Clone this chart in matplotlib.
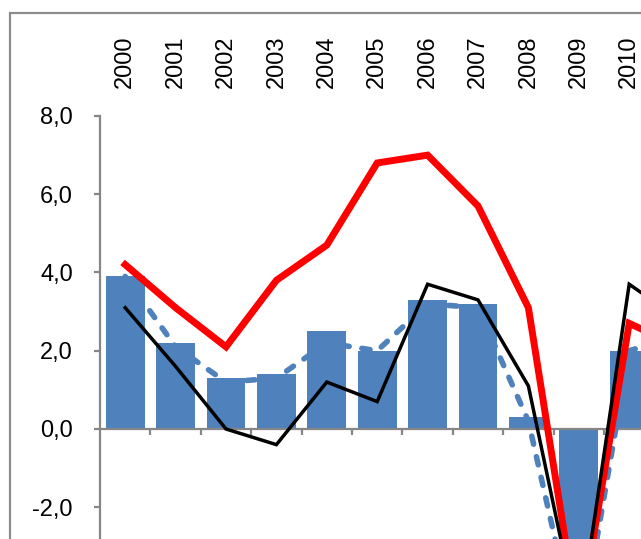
import matplotlib
matplotlib.use("Agg")
from matplotlib import pyplot as plt
from matplotlib import transforms
from matplotlib.patches import Rectangle
from matplotlib.ticker import FixedLocator, FuncFormatter

years = ["2000", "2001", "2002", "2003", "2004", "2005", "2006",
         "2007", "2008", "2009", "2010", "2011"]
bars = [3.9, 2.2, 1.3, 1.4, 2.5, 2.0, 3.3, 3.2, 0.3, -5.5, 2.0, 2.5]
dashed = [3.9, 2.1, 1.2, 1.3, 2.2, 2.0, 3.2, 3.1, 0.2, -5.5, 2.0, 2.4]
red = [4.2, 3.1, 2.1, 3.8, 4.7, 6.8, 7.0, 5.7, 3.1, -5.0, 2.7, 2.1]
black = [3.1, 1.6, 0.0, -0.4, 1.2, 0.7, 3.7, 3.3, 1.1, -5.0, 3.7, 2.8]
yticks = [-2, 0, 2, 4, 6, 8]

plt.rcParams['font.family'] = ['Liberation Sans', 'DejaVu Sans']
grey = '#868686'

W, H = 641, 539
fig = plt.figure(figsize=(W / 100, H / 100), dpi=100)

# outer chart frame (cropped on the right and bottom)
fig.patches.append(Rectangle((10 / W, -0.5), 2, 1 - 13 / H + 0.5,
                             transform=fig.transFigure, fill=False,
                             edgecolor='#8c8c8c', lw=1.6))

# plot area: y axis at x=100px, 8,0 at y=116px, 0,0 at y=429px
ymin, ymax = -6, 8
px_per_unit = (429 - 116) / 8
top = 1 - 116 / H
bottom = top - (ymax - ymin) * px_per_unit / H
left = 100 / W
cat_px = 50.4
ax = fig.add_axes([left, bottom, len(years) * cat_px / W, top - bottom])

x = list(range(len(years)))
ax.bar(x, bars, width=0.77, color='#4F81BD', zorder=2)
ax.plot(x, dashed, color='#4F81BD', lw=4, dashes=(1.5, 2.3),
        dash_capstyle='round', zorder=3)
ax.plot(x, red, color='#FF0000', lw=5, solid_joinstyle='miter', zorder=4)
ax.plot(x, black, color='black', lw=2.5, solid_joinstyle='miter', zorder=5)

ax.set_xlim(-0.5, len(years) - 0.5)
ax.set_ylim(ymin, ymax)

for s in ['top', 'right']:
    ax.spines[s].set_visible(False)
ax.spines['left'].set_color(grey)
ax.spines['left'].set_linewidth(1.6)
ax.spines['bottom'].set_position(('data', 0))
ax.spines['bottom'].set_color(grey)
ax.spines['bottom'].set_linewidth(1.6)

ax.yaxis.set_major_locator(FixedLocator(yticks))
ax.yaxis.set_major_formatter(FuncFormatter(lambda v, p: f"{v:.1f}".replace('.', ',')))
ax.tick_params(axis='y', direction='out', length=4.5, width=1.6, color=grey,
               labelsize=17, pad=15)
ax.xaxis.set_major_locator(FixedLocator([i + 0.5 for i in x]))
ax.tick_params(axis='x', direction='out', length=4, width=1.6, color=grey,
               labelbottom=False)

# year labels above the plot area (only those that fall inside the picture)
trans = transforms.blended_transform_factory(ax.transData, fig.transFigure)
for i, yr in zip(x, years):
    if 100 + (i + 0.5) * cat_px > W:
        continue
    ax.text(i, 1 - 88 / H, yr, transform=trans, rotation=90,
            ha='center', va='bottom', fontsize=17, clip_on=False)

fig.savefig('out.png', dpi=100)
